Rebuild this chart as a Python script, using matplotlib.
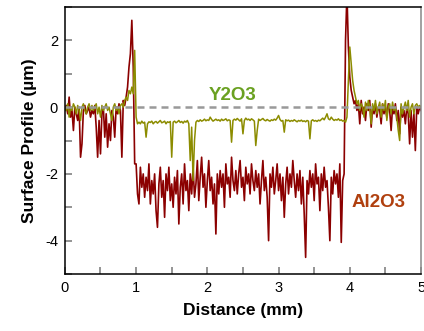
import numpy as np
import matplotlib
matplotlib.use("Agg")
import matplotlib.pyplot as plt
from matplotlib.ticker import MultipleLocator

plt.rcParams['font.family'] = ['Liberation Sans', 'DejaVu Sans']
plt.rcParams['axes.unicode_minus'] = False

STEP = 0.02  # mm between profile samples

# Al2O3 profile (um)
al_left = [-0.1, 0.05, -0.2, 0.3, -0.3, -0.1, -0.7, 0.0, -0.2, -0.4,
           0.0, -1.5, -1.1, -0.1, 0.05, -0.2, -0.1, 0.0, -0.3, -0.1,
           -0.2, 0.05, -0.6, -1.5, -0.4, -1.4, -0.2, 0.0, -0.9, -0.2,
           -1.2, -0.5, -1.0, -0.1, -0.3, -0.9, 0.0, -0.2, 0.1, -0.1,
           -1.5, 0.2, 0.05, 0.3, 0.6, 1.2, 1.6, 2.6, 1.2, -1.7]
al_mid = [-1.7, -2.6, -2.9, -1.8, -2.4, -2.0, -2.7, -2.1, -2.5, -1.7,
          -2.9, -2.2, -2.6, -2.0, -3.1, -3.6, -2.3, -1.8, -2.7, -2.2,
          -3.3, -2.0, -2.5, -1.8, -2.8, -2.3, -3.0, -2.1, -2.6, -1.9,
          -3.5, -2.4, -2.0, -2.9, -1.7, -2.5, -2.2, -3.1, -2.0, -2.6,
          -1.8, -2.7, -2.3, -1.6, -2.8, -2.1, -1.5, -2.4, -2.0, -3.0,
          -2.2, -1.6, -2.5, -2.1, -2.9, -2.3, -3.8, -2.0, -2.6, -1.9,
          -2.4, -2.0, -3.0, -1.7, -2.3, -2.1, -2.7, -1.5, -2.2, -2.5,
          -1.9, -2.6, -2.0, -1.6, -2.4, -2.1, -2.8, -1.8, -2.3, -2.0,
          -2.6, -1.7, -2.2, -2.5, -1.9, -2.4, -2.0, -2.9, -2.2, -1.6,
          -2.5, -2.1, -2.7, -4.0, -2.0, -2.4, -1.8, -2.6, -2.2, -1.7,
          -2.5, -2.0, -2.8, -2.1, -3.3, -2.3, -1.8, -2.6, -2.0, -2.4,
          -1.6, -2.2, -2.7, -2.0, -2.5, -1.9, -2.9, -2.1, -3.2, -4.5,
          -2.2, -2.6, -1.9, -2.4, -2.0, -2.8, -1.7, -2.3, -2.1, -3.1,
          -2.0, -2.5, -1.8, -2.4, -2.2, -3.0, -4.0, -2.1, -2.6, -1.9,
          -2.3, -2.0, -2.7, -1.7, -4.05, -2.2]
al_right = [-2.0, 2.0, 3.4, 1.8, 0.9, 0.5, 0.3, 0.1, 0.2, -0.1,
            0.1, -0.5, 0.2, -0.2, 0.0, -0.4, 0.1, -0.1, 0.2, -0.6,
            0.0, -0.2, 0.1, -0.3, 0.0, -0.1, -0.5, 0.1, -0.2, 0.0,
            -0.3, 0.1, -0.1, -0.7, 0.0, -0.2, 0.1, -0.4, -0.1, -0.8,
            0.0, -0.3, -0.1, -0.5, 0.0, -0.2, -1.1, -0.1, -0.9, -0.2,
            -1.3, 0.0, -0.2, 0.0, -0.1]

# Y2O3 profile (um)
y_left = [0.0, -0.1, 0.1, -0.3, 0.0, -0.1, 0.1, 0.0, -0.2, 0.05,
          -0.1, -0.4, 0.0, 0.1, -0.1, -0.2, 0.0, 0.1, -0.1, 0.05,
          -0.1, 0.0, 0.1, -0.2, 0.0, -0.3, 0.05, -0.1, 0.0, 0.1,
          -0.1, 0.0, -0.2, -0.4, 0.0, 0.1, -0.1, 0.0, -0.2, 0.05,
          0.1, 0.0, 0.2, 0.3, 0.2, 0.5, 0.4, 0.6, 0.4, 1.7]
y_mid = [-0.3, -0.5, -0.45, -0.5, -0.42, -0.48, -0.45, -0.9, -0.5, -0.44,
         -0.46, -0.42, -0.5, -0.45, -0.43, -0.48, -0.44, -0.4, -0.47, -0.45,
         -0.42, -0.5, -0.44, -0.46, -0.43, -1.5, -0.45, -0.42, -0.47, -0.44,
         -0.4, -0.46, -0.43, -0.48, -0.42, -0.45, -0.4, -0.5, -1.6, -0.6,
         -2.2, -1.0, -0.45, -0.4, -0.43, -0.38, -0.42, -0.4, -0.36, -0.41,
         -0.38, -0.4, -0.3, -0.37, -0.42, -0.39, -0.36, -0.4, -0.38, -0.42,
         -0.36, -0.4, -0.38, -0.35, -0.41, -0.38, -0.4, -1.05, -0.4, -0.36,
         -0.39, -0.34, -0.38, -0.42, -0.35, -0.8, -0.4, -0.33, -0.38, -0.36,
         -0.4, -0.35, -0.38, -0.42, -1.15, -0.7, -0.36, -0.4, -0.37, -0.34,
         -0.39, -0.41, -0.37, -0.4, -0.42, -0.38, -0.4, -0.36, -0.39, -0.33,
         -0.25, -0.37, -0.42, -0.4, -0.75, -0.38, -0.41, -0.39, -0.43, -0.4,
         -0.42, -0.38, -0.41, -0.44, -0.4, -0.42, -0.39, -0.43, -0.41, -0.44,
         -0.4, -0.42, -0.95, -0.41, -0.38, -0.42, -0.4, -0.43, -0.39, -0.41,
         -0.37, -0.33, -0.38, -0.3, -0.2, -0.35, -0.38, -0.3, -0.36, -0.4,
         -0.37, -0.39, -0.35, -0.4, -0.38, -0.42]
y_right = [-0.4, -0.45, -0.3, 0.8, 1.8, 1.3, 0.8, 0.5, 0.3, 0.1,
           0.2, -0.1, 0.1, 0.0, -0.3, 0.15, -0.1, 0.2, 0.0, -0.5,
           0.1, -0.1, 0.2, -0.2, 0.0, 0.15, -0.3, 0.1, -0.1, 0.2,
           -0.4, 0.0, 0.1, -0.2, 0.15, -0.1, 0.0, -0.3, -0.7, -1.0,
           0.1, -0.2, 0.0, 0.15, -0.1, 0.2, -0.3, 0.0, 0.1, -0.2,
           0.05, 0.1, 0.0, 0.05, 0.0]

SEG_START = [0.0, 1.0, 3.92]


def join(segs):
    xs, ys = [], []
    for x0, s in zip(SEG_START, segs):
        xs.append(x0 + STEP * np.arange(len(s)))
        ys.append(np.array(s))
    return np.concatenate(xs), np.concatenate(ys)


x_al, al = join([al_left, al_mid, al_right])
x_y, yo = join([y_left, y_mid, y_right])

fig = plt.figure(figsize=(4.24, 3.31), dpi=100)
ax = fig.add_axes([0.153, 0.172, 0.840, 0.807])

ax.plot(x_al, al, color='#8b0000', lw=1.2)
ax.plot(x_y, yo, color='#8c8c00', lw=1.1)
dash, = ax.plot([0, 5], [0, 0], color='#999999', lw=1.8)
dash.set_dashes([2.8, 2.0])

ax.text(2.36, 0.36, 'Y2O3', color='#6aa121', fontsize=13.5, fontweight='bold',
        ha='center', va='center')
ax.text(4.4, -2.85, 'Al2O3', color='#b0400f', fontsize=13.5, fontweight='bold',
        ha='center', va='center')

ax.set_xlim(0, 5)
ax.set_ylim(-5, 3)
ax.xaxis.set_major_locator(MultipleLocator(1))
ax.xaxis.set_minor_locator(MultipleLocator(0.5))
ax.yaxis.set_major_locator(MultipleLocator(2))
ax.yaxis.set_minor_locator(MultipleLocator(1))
ax.tick_params(which='both', direction='in', color='#777777', width=1.1,
               labelsize=10.5, top=False, right=False, pad=5)
ax.tick_params(which='major', length=5)
ax.tick_params(which='minor', length=5)
for s in ax.spines.values():
    s.set_linewidth(1.1)
ax.spines['right'].set_color('#888888')

ax.set_xlabel('Distance (mm)', fontsize=12.5, fontweight='bold', labelpad=6)
ax.set_ylabel('Surface Profile (µm)', fontsize=12.5, fontweight='bold', labelpad=6)

fig.savefig('out.png', dpi=100)
